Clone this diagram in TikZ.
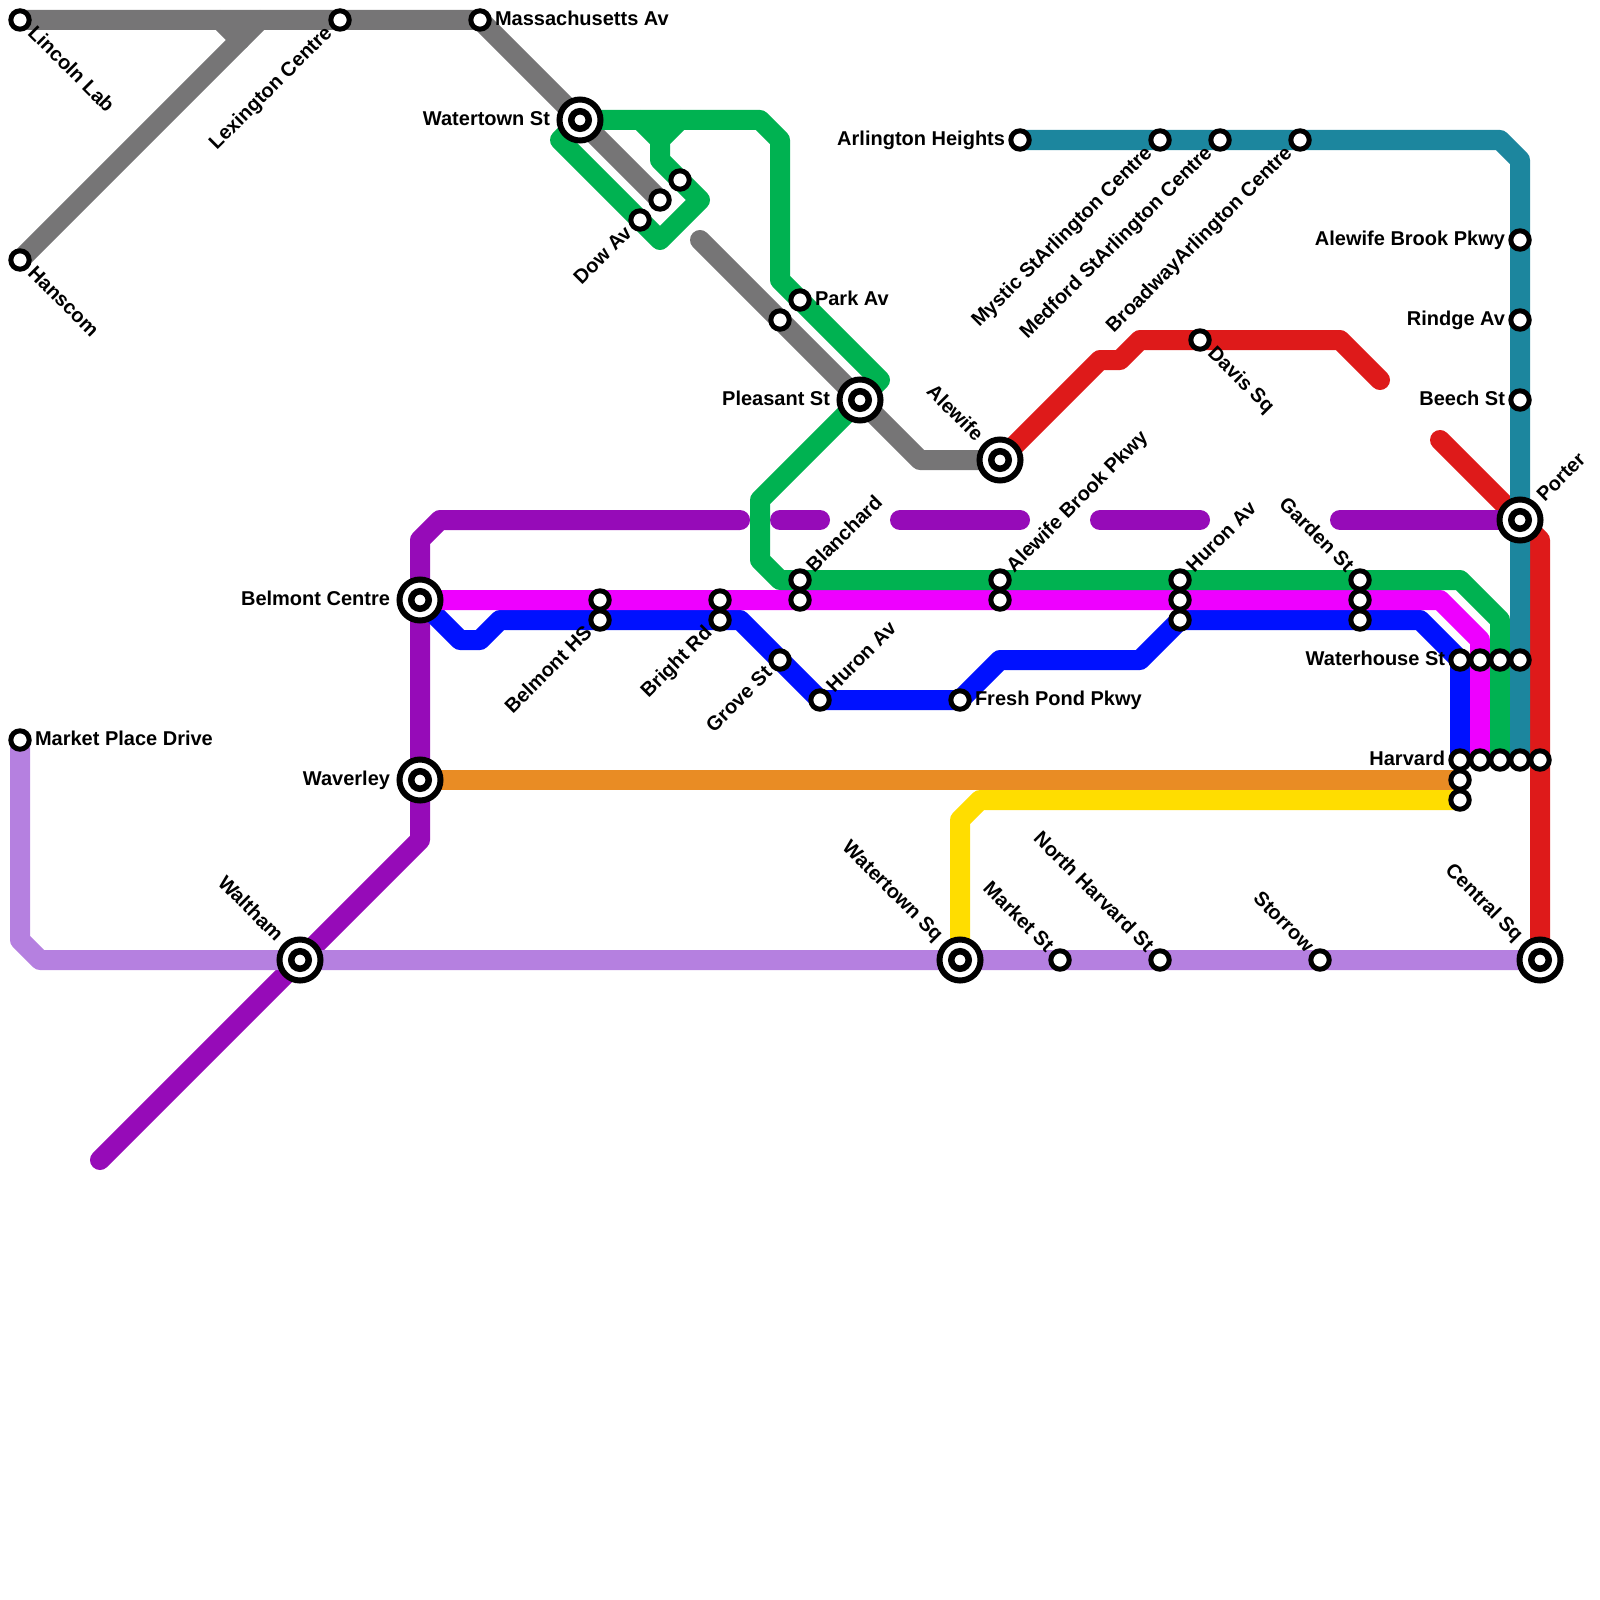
\documentclass[tikz,border=0pt]{standalone}
\usepackage{fontspec}
\setmainfont{Liberation Sans}
\pgfdeclarelayer{lines}
\pgfsetlayers{lines,main}
\definecolor{cgray}{HTML}{767576}
\definecolor{cgreen}{HTML}{00B251}
\definecolor{cmag}{HTML}{EE00FF}
\definecolor{cblue}{HTML}{0011FF}
\definecolor{cpurple}{HTML}{960BB8}
\definecolor{clav}{HTML}{B580E0}
\definecolor{corange}{HTML}{E98C24}
\definecolor{cyellow}{HTML}{FFDD00}
\definecolor{cteal}{HTML}{1C869E}
\definecolor{cred}{HTML}{DE1A1A}
\tikzset{
  route/.style={line width=20pt,line cap=round,line join=round},
  stn/.style={circle,draw=black,fill=white,line width=5pt,inner sep=0pt,outer sep=0pt,minimum size=18.4pt},
  ibig/.style={circle,draw=black,fill=white,line width=6pt,inner sep=0pt,outer sep=0pt,minimum size=41pt},
  ismall/.style={circle,draw=black,fill=white,line width=6.5pt,inner sep=0pt,outer sep=0pt,minimum size=17.5pt},
  lab/.style={inner sep=0pt,outer sep=0pt,text height=14.3pt,text depth=4pt,font=\fontsize{20}{20}\selectfont\bfseries,text=black},
  se/.style={rotate=-45,anchor=west},
  ne/.style={rotate=45,anchor=west},
  sw/.style={rotate=45,anchor=east},
  nw/.style={rotate=-45,anchor=east},
  rt/.style={anchor=west},
  lf/.style={anchor=east}
}
\newcommand{\St}[3]{\node[stn] (#1) at (#2,#3) {};}
\newcommand{\Ic}[3]{\node[ibig] (#1) at (#2,#3) {};\node[ismall] (#1i) at (#2,#3) {};}
\newcommand{\LB}[5]{\node[lab,#1] (lb#2) at ([shift={(#3)}]#2.center) {#4#5};}
\begin{document}
\begin{tikzpicture}[x=1pt,y=-1pt]
\useasboundingbox (0,0) rectangle (1600,1600);
% stations
\St{lincoln}{20}{20}\St{hanscom}{20}{260}\St{lexington}{340}{20}\St{mass}{480}{20}
\Ic{wtnst}{580}{120}
\St{dow}{640}{220}\St{dowb}{660}{200}\St{dowc}{680}{180}
\St{parkg}{780}{320}\St{park}{800}{300}
\Ic{pleasant}{860}{400}\Ic{alewife}{1000}{460}
\St{arl}{1020}{140}\St{mystic}{1160}{140}\St{medford}{1220}{140}\St{broadway}{1300}{140}
\St{abpk}{1520}{240}\St{rindge}{1520}{320}\St{beech}{1520}{400}\Ic{porter}{1520}{520}
\St{davis}{1200}{340}
\Ic{belmontc}{420}{600}\Ic{waverley}{420}{780}\Ic{waltham}{300}{960}
\St{mpd}{20}{740}
\Ic{wtnsq}{960}{960}\St{marketst}{1060}{960}\St{nharvard}{1160}{960}\St{storrow}{1320}{960}\Ic{central}{1540}{960}
\St{bhsA}{600}{600}\St{bhsB}{600}{620}
\St{brA}{720}{600}\St{brB}{720}{620}
\St{blA}{800}{580}\St{blB}{800}{600}
\St{abA}{1000}{580}\St{abB}{1000}{600}
\St{huA}{1180}{580}\St{huB}{1180}{600}\St{huC}{1180}{620}
\St{gaA}{1360}{580}\St{gaB}{1360}{600}\St{gaC}{1360}{620}
\St{grove}{780}{660}\St{huron}{820}{700}\St{fresh}{960}{700}
\St{wA}{1460}{660}\St{wB}{1480}{660}\St{wC}{1500}{660}\St{wD}{1520}{660}
\St{hA}{1460}{760}\St{hB}{1480}{760}\St{hC}{1500}{760}\St{hD}{1520}{760}\St{hE}{1540}{760}
\St{hF}{1460}{780}\St{hG}{1460}{800}
% free ends
\coordinate (gA) at (260,20);\coordinate (gB) at (240,40);\coordinate (gC) at (220,20);\coordinate (gD) at (700,240);
\coordinate (rA) at (1380,380);\coordinate (rB) at (1440,440);
\coordinate (pA) at (100,1160);\coordinate (pB) at (740,520);\coordinate (pC) at (780,520);\coordinate (pD) at (820,520);
\coordinate (pE) at (900,520);\coordinate (pF) at (1020,520);\coordinate (pG) at (1100,520);\coordinate (pH) at (1200,520);\coordinate (pI) at (1340,520);
\begin{pgfonlayer}{lines}
\draw[route,cgray] (lincoln.center)--(lexington.center)--(mass.center)--(dowb.center);
\draw[route,cgray] (hanscom.center)--(gA);
\draw[route,cgray] (gB)--(gC);
\draw[route,cgray] (gD)--(parkg.center)--(pleasant.center)--(920,460)--(alewife.center);
\draw[route,cred] (alewife.center)--(1100,360)--(1120,360)--(1140,340)--(davis.center)--(1340,340)--(rA);
\draw[route,cred] (rB)--(porter.center)--(1540,540)--(hE.center)--(central.center);
\draw[route,cpurple] (pA)--(waltham.center)--(420,840)--(waverley.center)--(belmontc.center)--(420,540)--(440,520)--(pB);
\draw[route,cpurple] (pC)--(pD);
\draw[route,cpurple] (pE)--(pF);
\draw[route,cpurple] (pG)--(pH);
\draw[route,cpurple] (pI)--(porter.center);
\draw[route,clav] (mpd.center)--(20,940)--(40,960)--(waltham.center)--(wtnsq.center)--(marketst.center)--(nharvard.center)--(storrow.center)--(central.center);
\draw[route,corange] (waverley.center)--(hF.center);
\draw[route,cyellow] (wtnsq.center)--(960,820)--(980,800)--(hG.center);
\draw[route,cblue] (belmontc.center)--(460,640)--(480,640)--(500,620)--(bhsB.center)--(brB.center)--(740,620)--(grove.center)--(huron.center)--(fresh.center)--(1000,660)--(1140,660)--(huC.center)--(gaC.center)--(1420,620)--(wA.center)--(hA.center);
\draw[route,cmag] (belmontc.center)--(bhsA.center)--(brA.center)--(blB.center)--(abB.center)--(huB.center)--(gaB.center)--(1440,600)--(1480,640)--(wB.center)--(hB.center);
\draw[route,cgreen] (wtnst.center)--(560,140)--(660,240)--(700,200)--(660,160)--(660,140)--(680,120);
\draw[route,cgreen] (640,120)--(660,140);
\draw[route,cgreen] (wtnst.center)--(760,120)--(780,140)--(780,280)--(park.center)--(880,380)--(pleasant.center)--(760,500)--(760,560)--(780,580)--(blA.center)--(abA.center)--(huA.center)--(gaA.center)--(1460,580)--(1500,620)--(wC.center)--(hC.center);
\draw[route,cteal] (arl.center)--(mystic.center)--(medford.center)--(broadway.center)--(1500,140)--(1520,160)--(abpk.center)--(rindge.center)--(beech.center)--(porter.center)--(wD.center)--(hD.center);
\end{pgfonlayer}
% labels
\LB{se}{lincoln}{10.6,10.6}{}{Lincoln Lab}
\LB{se}{hanscom}{10.6,10.6}{}{Hanscom}
\LB{sw}{lexington}{-10.6,10.6}{}{Lexington Centre}
\LB{rt}{mass}{15,0}{}{Massachusetts Av}
\LB{lf}{wtnst}{-30,0}{}{Watertown St}
\LB{sw}{dow}{-10.6,10.6}{}{Dow Av}
\LB{rt}{park}{15,0}{}{Park Av}
\LB{lf}{pleasant}{-30,0}{}{Pleasant St}
\LB{nw}{alewife}{-21.2,-21.2}{}{Alewife}
\LB{lf}{arl}{-15,0}{}{Arlington Heights}
\LB{sw}{mystic}{-10.6,10.6}{}{Mystic StArlington Centre}
\LB{sw}{medford}{-10.6,10.6}{}{Medford StArlington Centre}
\LB{sw}{broadway}{-10.6,10.6}{}{BroadwayArlington Centre}
\LB{lf}{abpk}{-15,0}{}{Alewife Brook Pkwy}
\LB{lf}{rindge}{-15,0}{}{Rindge Av}
\LB{lf}{beech}{-15,0}{}{Beech St}
\LB{ne}{porter}{21.2,-21.2}{}{Porter}
\LB{se}{davis}{10.6,10.6}{}{Davis Sq}
\LB{ne}{abA}{10.6,-10.6}{}{Alewife Brook Pkwy}
\LB{ne}{huA}{10.6,-10.6}{}{Huron Av}
\LB{ne}{blA}{10.6,-10.6}{}{Blanchard}
\LB{nw}{gaA}{-10.6,-10.6}{}{Garden St}
\LB{lf}{belmontc}{-30,0}{}{Belmont Centre}
\LB{lf}{waverley}{-30,0}{}{Waverley}
\LB{rt}{mpd}{15,0}{}{Market Place Drive}
\LB{nw}{waltham}{-21.2,-21.2}{}{Waltham}
\LB{nw}{wtnsq}{-21.2,-21.2}{}{Watertown Sq}
\LB{nw}{marketst}{-10.6,-10.6}{}{Market St}
\LB{nw}{nharvard}{-10.6,-10.6}{}{North Harvard St}
\LB{nw}{storrow}{-10.6,-10.6}{}{Storrow}
\LB{nw}{central}{-21.2,-21.2}{}{Central Sq}
\LB{sw}{bhsB}{-10.6,10.6}{}{Belmont HS}
\LB{sw}{brB}{-10.6,10.6}{}{Bright Rd}
\LB{sw}{grove}{-10.6,10.6}{}{Grove St}
\LB{ne}{huron}{10.6,-10.6}{}{Huron Av}
\LB{rt}{fresh}{15,0}{}{Fresh Pond Pkwy}
\LB{lf}{wA}{-15,0}{}{Waterhouse St}
\LB{lf}{hA}{-15,0}{}{Harvard}
\end{tikzpicture}
\end{document}
